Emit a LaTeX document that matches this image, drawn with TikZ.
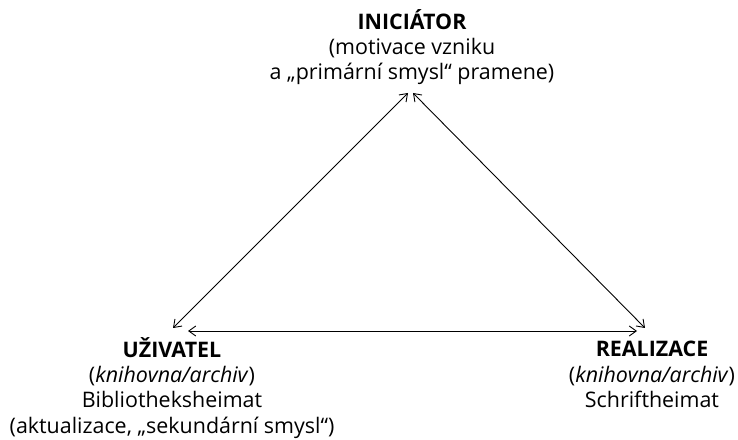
\documentclass[tikz,border=0pt]{standalone}
\usepackage{fontspec}
\setmainfont{Open Sans}
\usetikzlibrary{arrows.meta}
\def\role#1{\textbf{#1}}
\begin{document}
\begin{tikzpicture}[x=1bp,y=-1bp,
        every node/.style={align=center,inner sep=0pt,font=\fontsize{21.5}{25.5}\selectfont},
        link/.style={{Straight Barb[length=7bp,width=10bp]}-{Straight Barb[length=7bp,width=10bp]},line width=0.9bp}]
    \useasboundingbox (0,0) rectangle (738,440);
    \node[anchor=north] (iniciator) at (412,9) {\role{INICIÁTOR}\\(motivace vzniku\\a „primární smysl“ pramene)};
    \node[anchor=north] (uzivatel) at (172,337) {\role{UŽIVATEL}\\(\textit{knihovna/archiv})\\Bibliotheksheimat\\(aktualizace, „sekundární smysl“)};
    \node[anchor=north] (realizace) at (652,341) {\role{REALIZACE}\\(\textit{knihovna/archiv})\\Schriftheimat};
    \coordinate (iniciator-l) at (408,93);
    \coordinate (iniciator-r) at (413,93);
    \coordinate (uzivatel-d) at (173,328);
    \coordinate (uzivatel-h) at (188,331);
    \coordinate (realizace-h) at (637,331);
    \coordinate (realizace-d) at (645,328);
    \draw[link] (uzivatel-d) -- (iniciator-l);
    \draw[link] (iniciator-r) -- (realizace-d);
    \draw[link] (uzivatel-h) -- (realizace-h);
\end{tikzpicture}
\end{document}
